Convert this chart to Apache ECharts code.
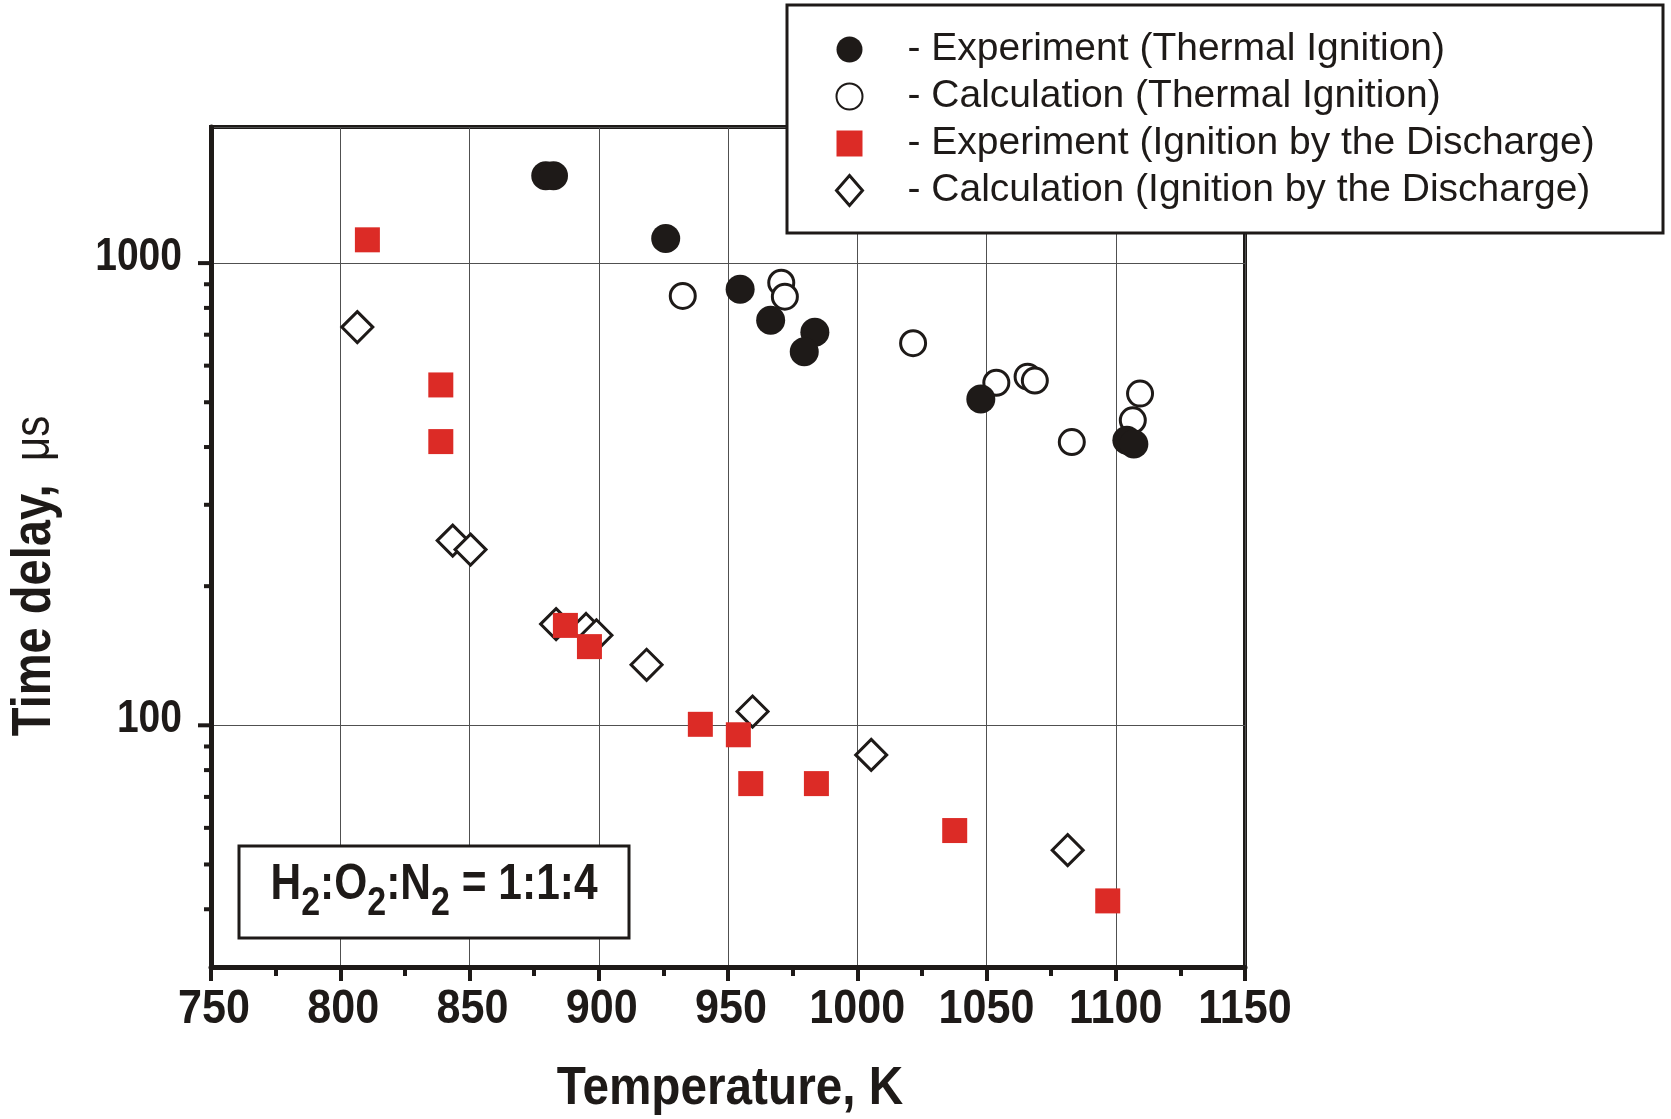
<!DOCTYPE html>
<html>
<head>
<meta charset="utf-8">
<script src="https://cdn.jsdelivr.net/npm/echarts@6/dist/echarts.min.js"></script>
<style>
  html, body { margin: 0; padding: 0; background: #fff; }
  #chart { width: 1671px; height: 1119px; }
</style>
</head>
<body>
<div id="chart"></div>
<script>
// data: temperature (K) and time delay (us)
var expThermalT   = [879.5, 882.5, 925.9, 954.7, 966.5, 983.6, 979.5, 1047.8, 1104.3, 1107.0];
var expThermalTau = [1545, 1545, 1130, 878, 752, 709, 643, 508, 414, 406];

var calcThermalT   = [932.5, 970.6, 972.0, 1021.6, 1053.8, 1065.9, 1068.7, 1083.0, 1109.4, 1106.6];
var calcThermalTau = [849, 907, 846, 671, 551, 568, 557, 410, 522, 457];

var expDischargeT   = [810.5, 838.9, 838.9, 887.1, 896.4, 939.3, 954.0, 958.8, 984.2, 1037.7, 1096.9];
var expDischargeTau = [1123, 545, 411, 164.5, 148, 100.5, 95.4, 74.8, 74.8, 59.2, 41.7];

var calcDischargeT   = [806.6, 843.5, 850.4, 883.5, 895.1, 899.1, 918.5, 959.5, 1005.4, 1081.4];
var calcDischargeTau = [727, 251, 240, 165.6, 161.6, 156.6, 135.2, 107.1, 86.3, 53.7];

var xTicks = [750, 800, 850, 900, 950, 1000, 1050, 1100, 1150];
var yMajor = [100, 1000];
var yMinor = [40, 50, 60, 70, 80, 90, 200, 300, 400, 500, 600, 700, 800, 900];

var names = [
  "Experiment (Thermal Ignition)",
  "Calculation (Thermal Ignition)",
  "Experiment (Ignition by the Discharge)",
  "Calculation (Ignition by the Discharge)"
];

var INK = "#1e1a18";
var RED = "#dc2b26";
var SANS = "'Liberation Sans', Arial, sans-serif";
// no narrow face installed, so narrow bold text is Liberation Sans squeezed

function pairs(xs, ys) {
  return xs.map(function (x, i) { return [x, ys[i]]; });
}

var chart = echarts.init(document.getElementById("chart"), null, { renderer: "canvas" });

chart.setOption({
  animation: false,
  backgroundColor: "#fff",
  grid: {
    left: 211, right: 426, top: 127, bottom: 152,
    show: true, borderColor: INK, borderWidth: 4,
    containLabel: false, outerBoundsMode: "none"
  },
  xAxis: {
    type: "value",
    min: xTicks[0], max: xTicks[xTicks.length - 1], interval: 50,
    axisLine: { show: true, lineStyle: { color: INK, width: 5 } },
    axisTick: { show: true, length: 14, lineStyle: { color: INK, width: 4 } },
    minorTick: { show: true, splitNumber: 2, length: 9, lineStyle: { color: INK, width: 4 } },
    splitLine: { show: true, lineStyle: { color: "#505050", width: 1 } },
    axisLabel: { show: false }
  },
  yAxis: {
    type: "log", logBase: 10, min: 30, max: 1970,
    axisLine: { show: true, lineStyle: { color: INK, width: 5 } },
    axisTick: { show: false },
    splitLine: { show: true, lineStyle: { color: "#505050", width: 1 } },
    axisLabel: { show: false }
  },
  legend: {
    orient: "vertical",
    left: 835, top: 30, padding: 0,
    itemWidth: 26, itemHeight: 30, itemGap: 8,
    selectedMode: false,
    z: 20,
    data: [
      { name: names[0] },
      { name: names[1], itemStyle: { borderWidth: 2 } },
      { name: names[2], icon: "path://M0,0L10,0L10,10L0,10Z" },
      { name: names[3], itemStyle: { borderWidth: 3 } }
    ],
    formatter: function (name) { return "{t|- " + name + "}"; },
    textStyle: {
      rich: {
        t: { color: INK, fontFamily: SANS, fontSize: 39, lineHeight: 40, padding: [0, 0, 0, 40] }
      }
    }
  },
  series: [
    {
      name: names[1], type: "scatter", z: 2,
      symbol: "circle", symbolSize: 25,
      itemStyle: { color: "#fff", borderColor: INK, borderWidth: 3, opacity: 1 },
      emphasis: { disabled: true },
      data: pairs(calcThermalT, calcThermalTau)
    },
    {
      name: names[3], type: "scatter", z: 2,
      symbol: "diamond", symbolSize: 31,
      itemStyle: { color: "#fff", borderColor: INK, borderWidth: 3, opacity: 1 },
      emphasis: { disabled: true },
      data: pairs(calcDischargeT, calcDischargeTau)
    },
    {
      name: names[0], type: "scatter", z: 3,
      symbol: "circle", symbolSize: 29,
      itemStyle: { color: INK, opacity: 1 },
      emphasis: { disabled: true },
      data: pairs(expThermalT, expThermalTau)
    },
    {
      name: names[2], type: "scatter", z: 3,
      symbol: "rect", symbolSize: 25,
      itemStyle: { color: RED, opacity: 1 },
      emphasis: { disabled: true },
      data: pairs(expDischargeT, expDischargeTau)
    }
  ]
});

// axis texts and log ticks placed from the chart's own scales
var xLeft = chart.convertToPixel({ xAxisIndex: 0 }, xTicks[0]);
var xRight = chart.convertToPixel({ xAxisIndex: 0 }, xTicks[xTicks.length - 1]);
var yBottom = chart.convertToPixel({ yAxisIndex: 0 }, 30);
var yTop = chart.convertToPixel({ yAxisIndex: 0 }, 1970);

var graphics = [
  {
    type: "rect", z: 10,
    shape: { x: 787, y: 5, width: 876, height: 228 },
    style: { fill: "#fff", stroke: INK, lineWidth: 3 }
  },
  {
    type: "rect", z: 10,
    shape: { x: 239, y: 846, width: 390, height: 92 },
    style: { fill: "#fff", stroke: INK, lineWidth: 3 }
  },
  {
    type: "text", z: 11,
    x: 434, y: 892, scaleX: 0.85,
    style: {
      text: "{n|H}{s|2}{n|:O}{s|2}{n|:N}{s|2}{n| = 1:1:4}",
      align: "center", verticalAlign: "middle",
      rich: {
        n: { fill: INK, fontFamily: SANS, fontWeight: "bold", fontSize: 50, verticalAlign: "bottom", padding: [0, 0, 14, 0] },
        s: { fill: INK, fontFamily: SANS, fontWeight: "bold", fontSize: 40, verticalAlign: "bottom" }
      }
    }
  },
  {
    type: "text", z: 11,
    x: (xLeft + xRight) / 2 + 2, y: yBottom + 122, scaleX: 0.9,
    style: {
      text: "Temperature, K", fill: INK,
      fontFamily: SANS, fontWeight: "bold", fontSize: 53,
      align: "center", verticalAlign: "middle"
    }
  },
  {
    type: "text", z: 11,
    x: xLeft - 176, y: (yTop + yBottom) / 2 + 29,
    rotation: Math.PI / 2, scaleX: 0.84,
    style: {
      text: "{b|Time delay,}{r|  μs}",
      align: "center", verticalAlign: "middle",
      rich: {
        b: { fill: INK, fontFamily: SANS, fontWeight: "bold", fontSize: 56 },
        r: { fill: INK, fontFamily: SANS, fontSize: 50 }
      }
    }
  }
];

xTicks.forEach(function (v) {
  graphics.push({
    type: "text", z: 11,
    x: chart.convertToPixel({ xAxisIndex: 0 }, v) + (v < 1000 ? 3 : 0),
    y: yBottom + 42, scaleX: 0.88,
    style: {
      text: String(v), fill: INK,
      fontFamily: SANS, fontWeight: "bold", fontSize: 49,
      align: "center", verticalAlign: "middle"
    }
  });
});

function yTick(v, len) {
  var py = chart.convertToPixel({ yAxisIndex: 0 }, v);
  return {
    type: "line", z: 5,
    shape: { x1: xLeft - len, y1: py, x2: xLeft, y2: py },
    style: { stroke: INK, lineWidth: 4 }
  };
}

yMinor.forEach(function (v) { graphics.push(yTick(v, 7)); });

yMajor.forEach(function (v) {
  graphics.push(yTick(v, 13));
  graphics.push({
    type: "text", z: 11,
    x: xLeft - 29, y: chart.convertToPixel({ yAxisIndex: 0 }, v) - 6, scaleX: 0.83,
    style: {
      text: String(v), fill: INK,
      fontFamily: SANS, fontWeight: "bold", fontSize: 47,
      align: "right", verticalAlign: "middle"
    }
  });
});

chart.setOption({ graphic: graphics });
</script>
</body>
</html>
